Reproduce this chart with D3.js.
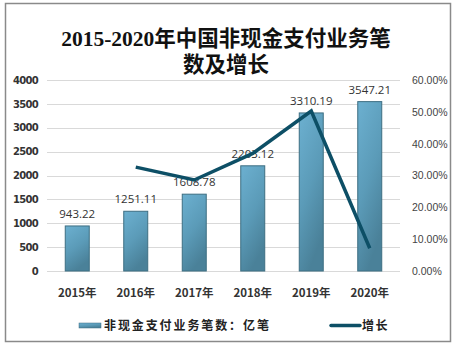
<!DOCTYPE html>
<html><head><meta charset="utf-8">
<script src="https://cdn.jsdelivr.net/npm/d3@7"></script>
<style>body{margin:0;background:#fff}svg{display:block}</style>
</head><body><svg id="c" width="456" height="346"></svg>
<script>
const categories = ["2015年","2016年","2017年","2018年","2019年","2020年"];
const volumes = [943.22, 1251.11, 1608.78, 2203.12, 3310.19, 3547.21];
const growth = [null, 32.64, 28.59, 36.94, 50.25, 7.16];
const leftTicks = [0,500,1000,1500,2000,2500,3000,3500,4000];
const rightTicks = [0,10,20,30,40,50,60];
const titleLines = ["2015-2020年中国非现金支付业务笔","数及增长"];
const legendLabels = ["非现金支付业务笔数：亿笔","增长"];

const svg = d3.select("#c");
const defs = svg.append("defs");
const g1 = defs.append("linearGradient").attr("id","bg").attr("x1",0).attr("y1",0).attr("x2",0.4).attr("y2",1);
g1.append("stop").attr("offset","0%").attr("stop-color","#6cb0d0");
g1.append("stop").attr("offset","55%").attr("stop-color","#5b9bb8");
g1.append("stop").attr("offset","100%").attr("stop-color","#4a8199");

svg.append("rect").attr("x",5.5).attr("y",3.5).attr("width",445).attr("height",338)
  .attr("fill","#fff").attr("stroke","#8a8a8a").attr("stroke-width",1.5);

const x = d3.scaleBand().domain(categories).range([48,399]).paddingInner(0.59).paddingOuter(0.295);
const y = d3.scaleLinear().domain([0,4000]).range([271,80]);
const y2 = d3.scaleLinear().domain([0,60]).range([271,80]);

// gridlines
svg.append("g").selectAll("line").data(leftTicks).join("line")
  .attr("x1",47).attr("x2",400).attr("y1",d=>Math.round(y(d))+0.5).attr("y2",d=>Math.round(y(d))+0.5)
  .attr("stroke","#d9d9d9").attr("stroke-width",1);

// left axis
const la = svg.append("g").attr("transform","translate(38,0)")
  .call(d3.axisLeft(y).tickValues(leftTicks).tickSize(0).tickPadding(0).tickFormat(d3.format("d")));
la.select(".domain").remove();
la.selectAll("text").attr("font-family","'DejaVu Sans',sans-serif").attr("font-weight","bold")
  .attr("font-size","10px").attr("fill","#333").attr("letter-spacing","-0.7");

// right axis
const ra = svg.append("g").attr("transform","translate(412,0)")
  .call(d3.axisRight(y2).tickValues(rightTicks).tickSize(0).tickPadding(0).tickFormat(d=>d3.format(".2f")(d)+"%"));
ra.select(".domain").remove();
ra.selectAll("text").attr("font-family","'Liberation Sans',sans-serif")
  .attr("font-size","10.5px").attr("fill","#444");

// bars
svg.append("g").selectAll("rect").data(volumes).join("rect")
  .attr("x",(d,i)=>x(categories[i])).attr("width",x.bandwidth())
  .attr("y",d=>y(d)).attr("height",d=>y(0)-y(d))
  .attr("fill","url(#bg)").attr("stroke","#3d6e82").attr("stroke-width",1);

// data labels
svg.append("g").selectAll("text").data(volumes).join("text")
  .attr("x",(d,i)=>x(categories[i])+x.bandwidth()/2).attr("y",d=>y(d)-8)
  .attr("text-anchor","middle").attr("font-family","'Open Sans',sans-serif")
  .attr("font-size","11.5px").attr("fill","#333").text(d=>d3.format(".2f")(d));

// line
const pts = growth.map((v,i)=>v==null?null:[x(categories[i])+x.bandwidth()/2, y2(v)]).filter(Boolean);
svg.append("path").attr("d",d3.line()(pts)).attr("fill","none")
  .attr("stroke","#0d4f66").attr("stroke-width",3.5).attr("stroke-linejoin","miter");

// x labels
svg.append("g").selectAll("text").data(categories).join("text")
  .attr("x",d=>x(d)+x.bandwidth()/2).attr("y",297).attr("text-anchor","middle")
  .attr("font-family","'Noto Sans CJK SC',sans-serif").attr("font-weight","bold")
  .attr("font-size","11.5px").attr("fill","#333").text(d=>d);

// title
svg.append("g").selectAll("text").data(titleLines).join("text")
  .attr("x",226).attr("y",(d,i)=>46+i*26).attr("text-anchor","middle")
  .attr("font-family","'Liberation Serif','Noto Sans CJK SC',serif").attr("font-weight","bold")
  .attr("font-size","21.5px").attr("fill","#111").text(d=>d);

// legend
const lg = svg.append("g");
lg.append("rect").attr("x",79).attr("y",323).attr("width",22).attr("height",5).attr("fill","url(#bg)").attr("stroke","#3d6e82").attr("stroke-width",0.5);
lg.append("text").attr("x",104).attr("y",330).attr("font-family","'Noto Sans CJK SC',sans-serif").attr("font-weight","bold")
  .attr("font-size","12px").attr("letter-spacing","1.9").attr("fill","#222").text(legendLabels[0]);
lg.append("line").attr("x1",331).attr("x2",360).attr("y1",325.5).attr("y2",325.5).attr("stroke","#0d4f66").attr("stroke-width",3.5).attr("stroke-linecap","round");
lg.append("text").attr("x",362).attr("y",330).attr("font-family","'Noto Sans CJK SC',sans-serif").attr("font-weight","bold")
  .attr("font-size","12px").attr("letter-spacing","1.5").attr("fill","#222").text(legendLabels[1]);
</script></body></html>
